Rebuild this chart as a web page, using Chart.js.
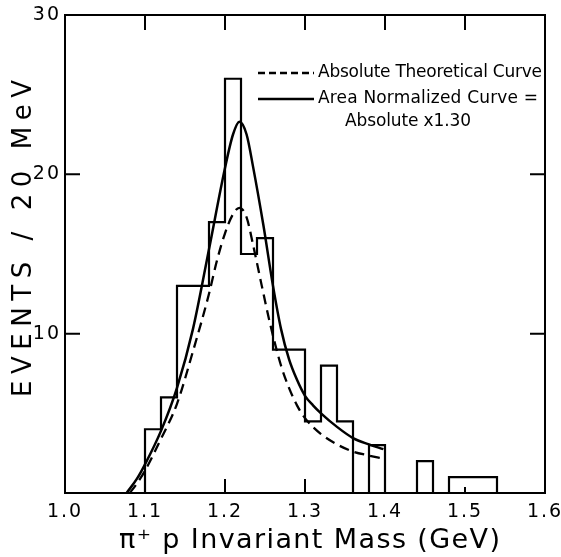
<!DOCTYPE html>
<html>
<head>
<meta charset="utf-8">
<script src="https://cdn.jsdelivr.net/npm/chart.js@4"></script>
<style>
  html, body { margin: 0; padding: 0; background: #fff; }
  #chart { display: block; }
</style>
</head>
<body>
<canvas id="chart" width="561" height="557"></canvas>
<script>
// ============================================
// pi+ p invariant mass – histogram + BW curves
// ============================================

// histogram, 20 MeV bins
const binEdges = [1.10, 1.12, 1.14, 1.16, 1.18, 1.20, 1.22, 1.24, 1.26, 1.28, 1.30, 1.32,
                  1.34, 1.36, 1.38, 1.40, 1.42, 1.44, 1.46, 1.48, 1.50, 1.52, 1.54];
const counts   = [4, 6, 13, 13, 17, 26, 15, 16, 9, 9, 4.5, 8,
                  4.5, 0, 3, 0, 0, 2, 0, 1, 1, 1];

// area normalized curve (solid)
const solidMass   = [1.077, 1.09, 1.10, 1.12, 1.14, 1.16, 1.18, 1.20, 1.21, 1.218, 1.227, 1.235,
                     1.248, 1.26, 1.27, 1.28, 1.29, 1.30, 1.31, 1.32, 1.34, 1.36, 1.38, 1.398];
const solidEvents = [0, 0.9, 1.8, 3.9, 6.6, 10.3, 15.3, 20.4, 22.5, 23.3, 22.5, 20.5,
                     16.8, 13.0, 10.3, 8.4, 7.1, 6.1, 5.5, 5.0, 4.15, 3.45, 3.05, 2.75];

// absolute theoretical curve (dashed)
const dashedMass   = [1.081, 1.09, 1.10, 1.12, 1.14, 1.16, 1.18, 1.19, 1.20, 1.21, 1.218, 1.227,
                      1.235, 1.246, 1.256, 1.27, 1.28, 1.29, 1.30, 1.32, 1.34, 1.36, 1.38, 1.398];
const dashedEvents = [0, 0.6, 1.4, 3.4, 5.6, 8.9, 12.5, 14.6, 16.3, 17.5, 17.9, 17.3,
                      15.6, 13.0, 10.7, 8.0, 6.6, 5.5, 4.7, 3.7, 3.05, 2.6, 2.35, 2.15];

const topTicks    = [1.1, 1.2, 1.3, 1.4, 1.5];
const bottomTicks = [1.1, 1.2, 1.3, 1.4, 1.5];
const sideTicks   = [10, 20];

const FONT = "'DejaVu Sans', sans-serif";

const histPoints = [{ x: binEdges[0], y: 0 }]
  .concat(counts.map((c, i) => ({ x: binEdges[i], y: c })))
  .concat([{ x: binEdges[binEdges.length - 1], y: 0 }]);

const toPoints = (xs, ys) => xs.map((x, i) => ({ x, y: ys[i] }));

// draws text left-aligned, letter-spaced so it spans `width`
function spacedText(ctx, text, x, y, width, size) {
  ctx.font = `${size}px ${FONT}`;
  ctx.letterSpacing = '0px';
  const w = ctx.measureText(text).width;
  const gap = (width - w) / Math.max(1, text.length - 1);
  ctx.letterSpacing = gap + 'px';
  ctx.textAlign = 'left';
  ctx.textBaseline = 'middle';
  ctx.fillText(text, x, y);
  ctx.letterSpacing = '0px';
}

const framePlugin = {
  id: 'frame',
  beforeDraw(chart) {
    chart.ctx.letterSpacing = '2px';
  },
  afterDraw(chart) {
    const { ctx, chartArea: a, scales: { x, y } } = chart;
    ctx.save();
    ctx.letterSpacing = '0px';
    ctx.strokeStyle = '#000';
    ctx.fillStyle = '#000';
    ctx.lineWidth = 2;
    ctx.setLineDash([]);
    ctx.strokeRect(a.left, a.top, a.right - a.left, a.bottom - a.top);

    // inward ticks
    ctx.beginPath();
    bottomTicks.forEach(v => {
      const px = x.getPixelForValue(v);
      ctx.moveTo(px, a.bottom);
      ctx.lineTo(px, a.bottom - (v === 1.5 ? 6 : 14));
    });
    topTicks.forEach(v => {
      const px = x.getPixelForValue(v);
      ctx.moveTo(px, a.top);
      ctx.lineTo(px, a.top + 15);
    });
    sideTicks.forEach(v => {
      const py = y.getPixelForValue(v);
      ctx.moveTo(a.left, py);
      ctx.lineTo(a.left + 15, py);
      ctx.moveTo(a.right, py);
      ctx.lineTo(a.right - 15, py);
    });
    ctx.stroke();

    // legend
    ctx.lineWidth = 2.5;
    ctx.beginPath();
    ctx.setLineDash([7, 4]);
    ctx.moveTo(258, 73);
    ctx.lineTo(314, 73);
    ctx.stroke();
    ctx.beginPath();
    ctx.setLineDash([]);
    ctx.moveTo(258, 99);
    ctx.lineTo(314, 99);
    ctx.stroke();
    spacedText(ctx, 'Absolute Theoretical Curve', 318, 73, 224, 17);
    spacedText(ctx, 'Area Normalized Curve =', 318, 99, 220, 17);
    spacedText(ctx, 'Absolute x1.30', 345, 122, 126, 17);

    // axis titles
    spacedText(ctx, 'π⁺ p Invariant Mass (GeV)', 119, 541, 381, 27);
    ctx.translate(24, 397);
    ctx.rotate(-Math.PI / 2);
    spacedText(ctx, 'EVENTS / 20 MeV', 0, 0, 317, 26);
    ctx.restore();
  }
};

new Chart(document.getElementById('chart'), {
  type: 'line',
  data: {
    datasets: [
      { label: 'Histogram', data: histPoints, stepped: 'before', borderColor: '#000', borderWidth: 2.2,
        pointRadius: 0, fill: false },
      { label: 'Area Normalized Curve', data: toPoints(solidMass, solidEvents), borderColor: '#000',
        borderWidth: 2.5, pointRadius: 0, cubicInterpolationMode: 'monotone', fill: false },
      { label: 'Absolute Theoretical Curve', data: toPoints(dashedMass, dashedEvents), borderColor: '#000',
        borderWidth: 2.3, borderDash: [10, 6], pointRadius: 0, cubicInterpolationMode: 'monotone', fill: false }
    ]
  },
  options: {
    responsive: false,
    animation: false,
    layout: { padding: { top: 15, right: 16, left: 0, bottom: 0 } },
    plugins: { legend: { display: false }, tooltip: { enabled: false } },
    scales: {
      x: {
        type: 'linear', min: 1.0, max: 1.6,
        grid: { display: false, drawTicks: false },
        border: { display: false },
        ticks: { stepSize: 0.1, padding: 8, color: '#000', font: { family: FONT, size: 19 },
                 maxRotation: 0, callback: v => v.toFixed(1) },
        afterFit: s => { s.height = 64; s.paddingLeft = 0; s.paddingRight = 0; }
      },
      y: {
        min: 0, max: 30,
        grid: { display: false, drawTicks: false },
        border: { display: false },
        ticks: { stepSize: 10, padding: 4, color: '#000', font: { family: FONT, size: 19 },
                 callback: v => v === 0 ? '' : v },
        afterFit: s => { s.width = 65; s.paddingTop = 0; s.paddingBottom = 0; }
      }
    }
  },
  plugins: [framePlugin]
});
</script>
</body>
</html>
